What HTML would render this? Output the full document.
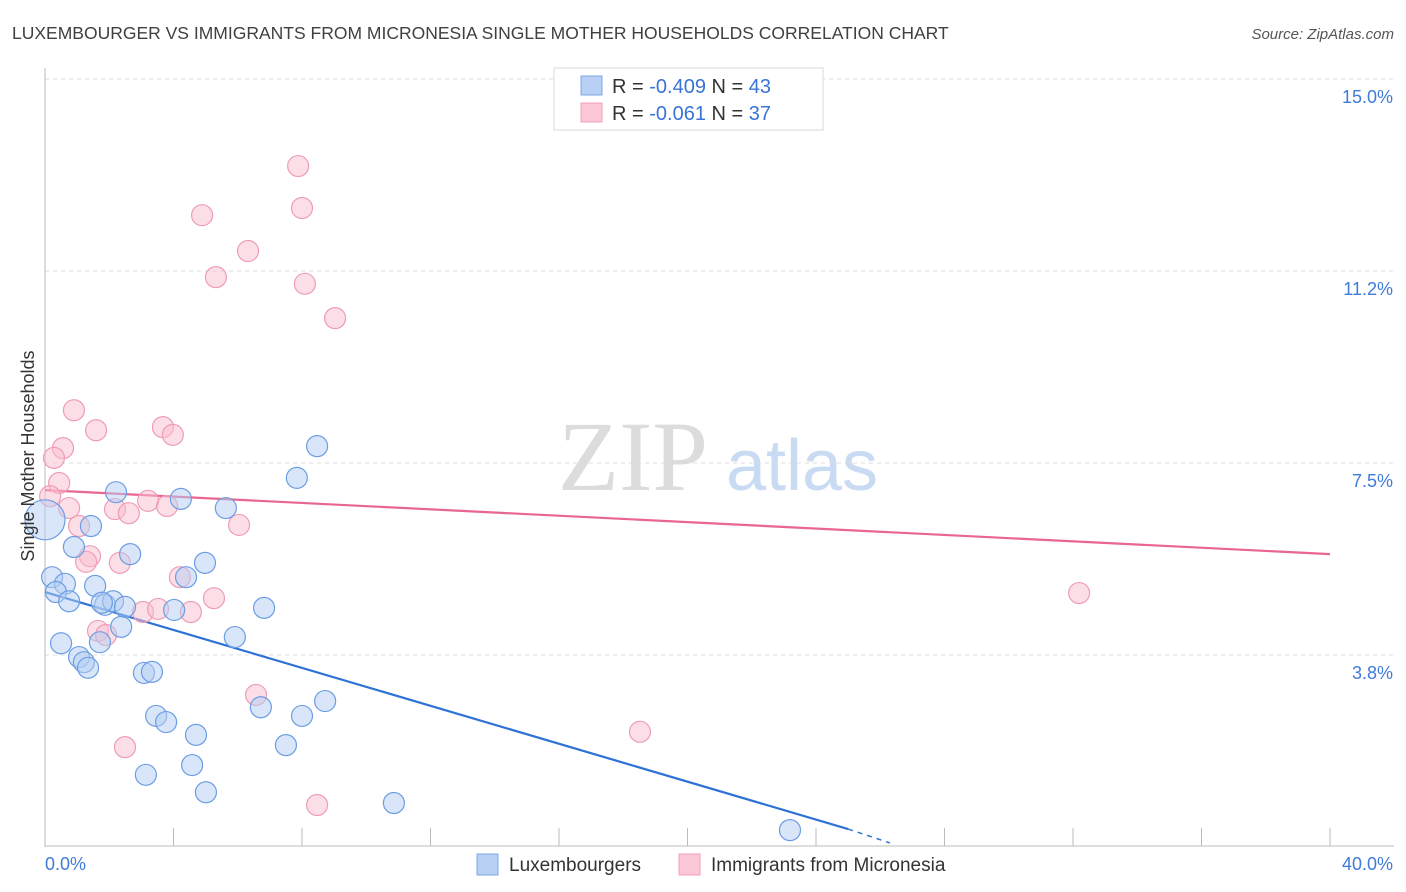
<!DOCTYPE html>
<html><head><meta charset="utf-8"><style>
body{margin:0;background:#fff;font-family:"Liberation Sans",sans-serif;}
svg{display:block}
</style></head><body>
<svg id="chart" width="1406" height="892" xmlns="http://www.w3.org/2000/svg">
<text x="12" y="39" font-size="17.5" fill="#404040">LUXEMBOURGER VS IMMIGRANTS FROM MICRONESIA SINGLE MOTHER HOUSEHOLDS CORRELATION CHART</text>
<text x="1394" y="39" font-size="15" font-style="italic" fill="#555" text-anchor="end">Source: ZipAtlas.com</text>
<g>
<text x="633" y="490" font-family="Liberation Serif,serif" font-size="100" fill="#dcdcdc" text-anchor="middle">ZIP</text>
<text x="802" y="490" font-size="72" fill="#c9dbf2" text-anchor="middle">atlas</text>
</g>
<g id="grid"></g><g id="axes"></g><g id="lines"></g><g id="pts"></g>
<text transform="translate(34,456) rotate(-90)" font-size="18" fill="#333" text-anchor="middle">Single Mother Households</text>
<g>
<rect x="554" y="68" width="269" height="62" fill="#fff" stroke="#d8d8d8"/>
<rect x="581" y="76" width="21" height="19" fill="#b7d0f3" stroke="#7ea8e6"/>
<rect x="581" y="103" width="21" height="19" fill="#fcc8d7" stroke="#f0a0b9"/>
<text x="612" y="93" font-size="20" fill="#333">R = <tspan fill="#3a74d6">-0.409</tspan>   N = <tspan fill="#3a74d6">43</tspan></text>
<text x="612" y="120" font-size="20" fill="#333">R =  <tspan fill="#3a74d6">-0.061</tspan>   N = <tspan fill="#3a74d6">37</tspan></text>
</g>
<g>
<rect x="477" y="854" width="21" height="21" fill="#b7d0f3" stroke="#7ea8e6"/>
<text x="509" y="871" font-size="19" fill="#333">Luxembourgers</text>
<rect x="679" y="854" width="21" height="21" fill="#fcc8d7" stroke="#f0a0b9"/>
<text x="711" y="871" font-size="19" fill="#333">Immigrants from Micronesia</text>
</g>
</svg>
<script>
const xTicks=[0,4,8,12,16,20,24,28,32,36,40];
const yTicks=[3.75,7.5,11.25,15];
const yTickLabels=["3.8%","7.5%","11.2%","15.0%"];
const blueX=[8.47,7.84,2.21,4.23,5.63,1.43,0,0.90,2.65,4.98,0.22,4.39,0.62,1.56,0.34,0.75,1.87,2.12,2.49,4.02,6.82,2.37,5.91,0.50,1.71,1.06,1.21,1.34,3.08,3.33,3.46,3.77,6.72,8.00,8.72,4.70,7.50,4.58,3.14,5.01,10.86,23.19,1.77];
const blueY=[7.83,7.21,6.93,6.80,6.62,6.27,6.39,5.86,5.72,5.55,5.27,5.27,5.14,5.10,4.98,4.80,4.73,4.80,4.69,4.63,4.67,4.30,4.10,3.98,4.00,3.71,3.61,3.50,3.40,3.42,2.56,2.44,2.73,2.56,2.85,2.19,1.99,1.60,1.41,1.07,0.86,0.33,4.77];
const pinkX=[7.88,8.00,4.89,6.32,5.32,8.09,9.03,0.90,1.59,3.67,3.98,0.56,0.28,0.44,0.16,3.21,0.75,2.18,2.61,3.80,6.04,1.06,1.40,1.28,2.33,4.20,5.26,3.05,3.52,4.54,1.65,1.90,6.57,18.52,2.49,8.47,32.19];
const pinkY=[13.30,12.48,12.34,11.64,11.13,11.00,10.33,8.53,8.14,8.20,8.05,7.79,7.60,7.11,6.85,6.76,6.62,6.60,6.52,6.66,6.29,6.27,5.68,5.57,5.55,5.27,4.86,4.59,4.65,4.59,4.22,4.14,2.97,2.25,1.95,0.82,4.96];
const blueTrend=[[0,4.98],[25.0,0.35]];
const blueTrendExt=[[25.0,0.35],[26.3,0.08]];
const pinkTrend=[[0,6.97],[40,5.72]];
const NS="http://www.w3.org/2000/svg";
const X=v=>45+v/40*1285, Y=v=>847-v/3.75*192;
function mk(parent,tag,attrs){const e=document.createElementNS(NS,tag);for(const k in attrs)e.setAttribute(k,attrs[k]);document.getElementById(parent).appendChild(e);return e;}
yTicks.forEach((t,i)=>{
 const g=mk('grid','line',{x1:45,x2:1394,y1:Y(t),y2:Y(t),stroke:'#dcdcdc','stroke-dasharray':'4,4'});
 
 
 const l=mk('axes','text',{x:1393,y:Y(t)+24,'font-size':18,fill:'#3f7bd8','text-anchor':'end'});
 l.textContent=yTickLabels[i];
 
 
});
let ax=mk('axes','line',{x1:45,x2:45,y1:68,y2:847,stroke:'#bbb'});


ax=mk('axes','line',{x1:45,x2:1394,y1:846,y2:846,stroke:'#bbb'});


xTicks.forEach(t=>{
 const k=mk('axes','line',{x1:X(t),x2:X(t),y1:828,y2:846,stroke:'#bbb'});
 
 
});
let xl=mk('axes','text',{x:45,y:870,'font-size':18,fill:'#3f7bd8'});xl.textContent='0.0%';


xl=mk('axes','text',{x:1393,y:870,'font-size':18,fill:'#3f7bd8','text-anchor':'end'});xl.textContent='40.0%';


function pts(xs,ys,fill,stroke,name){xs.forEach((x,i)=>{
 const r=(x===0&&name==='blue-point')?20:10.5;
 const c=mk('pts','circle',{cx:X(x),cy:Y(ys[i]),r:r,fill:fill,'fill-opacity':0.5,stroke:stroke,'stroke-width':1.2});
 
 
});}
pts(pinkX,pinkY,'#f9bdd0','#ef9cb7','pink-point');
pts(blueX,blueY,'#b3cef3','#6b9de3','blue-point');
let ln=mk('lines','line',{x1:X(pinkTrend[0][0]),y1:Y(pinkTrend[0][1]),x2:X(pinkTrend[1][0]),y2:Y(pinkTrend[1][1]),stroke:'#e8668f','stroke-width':2.2});


ln=mk('lines','line',{x1:X(blueTrend[0][0]),y1:Y(blueTrend[0][1]),x2:X(blueTrend[1][0]),y2:Y(blueTrend[1][1]),stroke:'#2f72d6','stroke-width':2.2});


ln=mk('lines','line',{x1:X(blueTrendExt[0][0]),y1:Y(blueTrendExt[0][1]),x2:X(blueTrendExt[1][0]),y2:Y(blueTrendExt[1][1]),stroke:'#2f72d6','stroke-width':1.5,'stroke-dasharray':'5,5'});


</script>
</body></html>
